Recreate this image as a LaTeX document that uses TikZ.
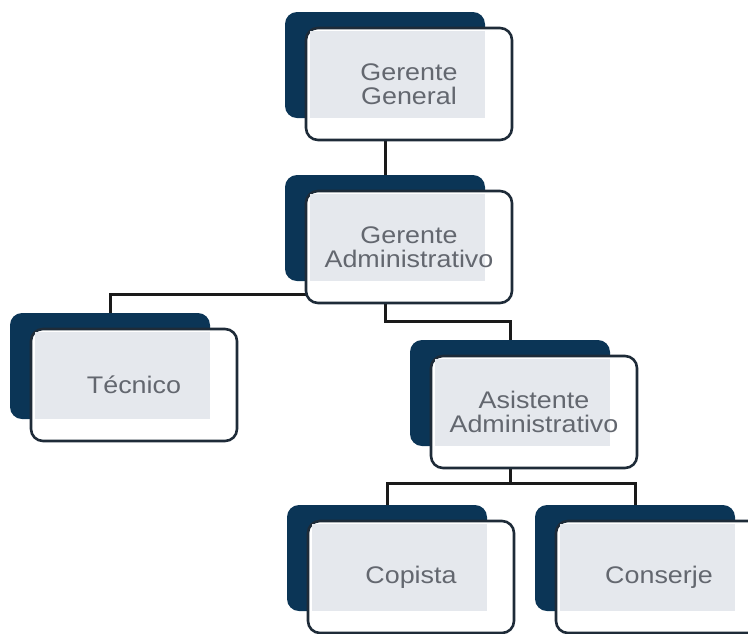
\documentclass[tikz,border=0pt]{standalone}
\usepackage{fontspec}
\newfontfamily\cargofont[FakeStretch=1.12]{Liberation Sans}
\usetikzlibrary{calc, backgrounds}
\definecolor{orgnavy}{HTML}{0B3556}
\definecolor{orgedge}{HTML}{1E2B38}
\definecolor{orgfill}{HTML}{E5E8ED}
\definecolor{orgtext}{HTML}{63676F}
\definecolor{orgline}{HTML}{1A1A1A}

\begin{document}
\begin{tikzpicture}[
    x=1pt, y=-1pt,
    backbox/.style={fill=orgnavy, rounded corners=12pt, minimum width=200pt, minimum height=106pt, inner sep=0pt},
    frontbox/.style={fill=white, draw=orgedge, line width=2.6pt, rounded corners=12pt, minimum width=206pt, minimum height=112pt, inner sep=0pt},
    overlap/.style={fill=orgfill},
    cargo/.style={font=\cargofont\fontsize{24}{24}\selectfont, text=orgtext, align=center, inner sep=0pt},
    link/.style={draw=orgline, line width=3pt}
]
    \useasboundingbox (0,0) rectangle (748,633);
    \clip (0,0) rectangle (748,633);

    \node[backbox] (b-gg) at (385,65) {};
    \node[backbox] (b-ga) at (385,228) {};
    \node[backbox] (b-tec) at (110,366) {};
    \node[backbox] (b-asi) at (510,393) {};
    \node[backbox] (b-cop) at (387,558) {};
    \node[backbox] (b-con) at (635,558) {};

    \foreach \n in {gg,ga,tec,asi,cop,con}
        \node[frontbox] (\n) at ($(b-\n)+(24,19)$) {};
    \foreach \n in {gg,ga,tec,asi,cop,con}
        \fill[overlap] ($(\n.north west)+(5,4)$) rectangle (b-\n.south east);

    \node[cargo] (t-gg) at (gg) {Gerente\\General};
    \node[cargo] (t-ga) at (ga) {Gerente\\Administrativo};
    \node[cargo] (t-tec) at (tec) {Técnico};
    \node[cargo] (t-asi) at (asi) {Asistente\\Administrativo};
    \node[cargo] (t-cop) at (cop) {Copista};
    \node[cargo] (t-con) at (con) {Conserje};

    \coordinate (j-ga) at (385,294);
    \coordinate (j-asi) at (385,321);
    \coordinate (j-low) at (510,483);

    \begin{scope}[on background layer]
        \draw[link] (b-gg.center) -- (b-ga.center);
        \draw[link] (b-tec.center) |- (j-ga);
        \draw[link] (b-ga.center) -- (j-asi) -| (b-asi.center);
        \draw[link] (b-asi.center) -- (j-low);
        \draw[link] (b-cop.center) |- (j-low) -| (b-con.center);
    \end{scope}
\end{tikzpicture}
\end{document}
